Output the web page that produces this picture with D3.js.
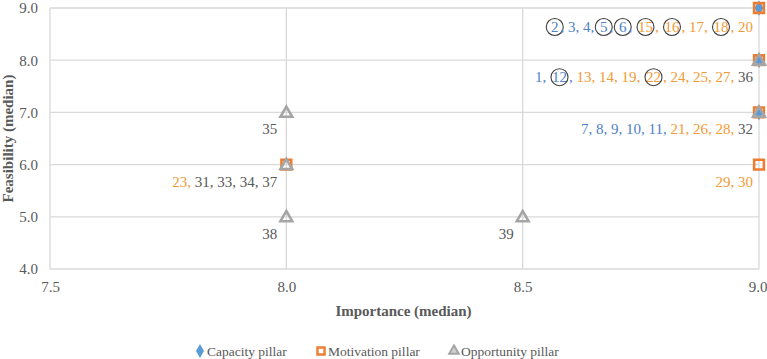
<!DOCTYPE html>
<html>
<head>
<meta charset="utf-8">
<script src="https://cdn.jsdelivr.net/npm/d3@7"></script>
<style>
  body { margin: 0; background: #fff; }
  text { font-family: "Liberation Serif", "Times New Roman", serif; }
</style>
</head>
<body>
<div id="chart"></div>
<script>

// --------------------------------------------------------
// (1) Data
// --------------------------------------------------------

var xTicks = [7.5, 8.0, 8.5, 9.0]
var yTicks = [4.0, 5.0, 6.0, 7.0, 8.0, 9.0]

var capacityX = [9, 9, 9]
var capacityY = [9, 8, 7]

var motivationX = [9, 9, 9, 9, 8]
var motivationY = [9, 8, 7, 6, 6]

var opportunityX = [9, 9, 8, 8, 8, 8.5]
var opportunityY = [8, 7, 7, 6, 5, 5]

// item numbers written next to each point
var labelX = [9, 9, 9, 9, 8, 8, 8, 8.5]
var labelY = [9, 8, 7, 6, 7, 6, 5, 5]
var labelCapacity    = [[2, 3, 4, 5, 6], [1, 12], [7, 8, 9, 10, 11], [], [], [], [], []]
var labelMotivation  = [[15, 16, 17, 18, 20], [13, 14, 19, 22, 24, 25, 27], [21, 26, 28], [29, 30], [], [23], [], []]
var labelOpportunity = [[], [36], [32], [], [35], [31, 33, 34, 37], [38], [39]]

var circled = [2, 5, 6, 12, 15, 16, 18, 22]

var seriesNames = ["Capacity pillar", "Motivation pillar", "Opportunity pillar"]


// --------------------------------------------------------
// (2) Sizes and colours
// --------------------------------------------------------

var svg_width = 767
var svg_height = 359

const margin = { top: 8, right: 8, bottom: 90, left: 50 }

var width = svg_width - (margin.left + margin.right)
var height = svg_height - (margin.top + margin.bottom)

var blue = "#5B9BD5", blueText = "#4F81C7"
var orange = "#ED7D31", orangeText = "#F39A35"
var grey = "#A5A5A5", greyText = "#595959"
var gridColor = "#D9D9D9"


// --------------------------------------------------------
// (3) Chart
// --------------------------------------------------------

const svg = d3.select("#chart")
    .append("svg")
        .attr("width", svg_width)
        .attr("height", svg_height)

const g = svg.append("g")
    .attr("transform", `translate(${margin.left}, ${margin.top})`)

const x = d3.scaleLinear().domain([7.5, 9]).range([0, width])
const y = d3.scaleLinear().domain([4, 9]).range([height, 0])

// grid
g.selectAll(".hgrid")
  .data(yTicks)
  .join("line")
    .attr("x1", 0).attr("x2", width)
    .attr("y1", d => y(d)).attr("y2", d => y(d))
    .attr("stroke", gridColor).attr("stroke-width", 1.3)

g.selectAll(".vgrid")
  .data(xTicks)
  .join("line")
    .attr("y1", 0).attr("y2", height)
    .attr("x1", d => x(d)).attr("x2", d => x(d))
    .attr("stroke", gridColor).attr("stroke-width", 1.3)

// axes
const yAxis = g.append("g")
    .call(d3.axisLeft(y).tickValues(yTicks).tickFormat(d3.format(".1f")).tickSize(0).tickPadding(12))
yAxis.select(".domain").remove()
yAxis.selectAll("text")
    .attr("font-size", 15)
    .attr("fill", "#595959")

const xAxis = g.append("g")
    .attr("transform", `translate(0, ${height})`)
    .call(d3.axisBottom(x).tickValues(xTicks).tickFormat(d3.format(".1f")).tickSize(0).tickPadding(12))
xAxis.select(".domain").remove()
xAxis.selectAll("text")
    .attr("font-size", 15)
    .attr("fill", "#595959")
// last tick label sits against the right edge
xAxis.selectAll("text")
    .filter(d => d === 9)
    .attr("text-anchor", "end")
    .attr("dx", 8)

// axis titles
svg.append("text")
    .attr("x", margin.left + width / 2 - 1)
    .attr("y", 316)
    .attr("text-anchor", "middle")
    .attr("font-size", 15)
    .attr("font-weight", "bold")
    .attr("fill", "#595959")
    .text("Importance (median)")

svg.append("text")
    .attr("transform", `translate(13, ${margin.top + height / 2}) rotate(-90)`)
    .attr("text-anchor", "middle")
    .attr("font-size", 15)
    .attr("font-weight", "bold")
    .attr("fill", "#595959")
    .text("Feasibility (median)")

// markers
const diamond = d3.symbol().type(d3.symbolDiamond).size(70)
const square = d3.symbol().type(d3.symbolSquare).size(95)
const triangle = d3.symbol().type(d3.symbolTriangle).size(60)

g.selectAll(".cap")
  .data(d3.zip(capacityX, capacityY))
  .join("path")
    .attr("d", diamond)
    .attr("transform", d => `translate(${x(d[0])}, ${y(d[1])})`)
    .attr("fill", blue)

g.selectAll(".mot")
  .data(d3.zip(motivationX, motivationY))
  .join("path")
    .attr("d", square)
    .attr("transform", d => `translate(${x(d[0])}, ${y(d[1])})`)
    .attr("fill", "none")
    .attr("stroke", orange)
    .attr("stroke-width", 2.6)

g.selectAll(".opp")
  .data(d3.zip(opportunityX, opportunityY))
  .join("path")
    .attr("d", triangle)
    .attr("transform", d => `translate(${x(d[0])}, ${y(d[1]) + 1})`)
    .attr("fill", "none")
    .attr("stroke", grey)
    .attr("stroke-width", 2.6)

// point labels
labelX.forEach((lx, i) => {
    var tokens = []
    labelCapacity[i].forEach(n => tokens.push({ n: n, c: blueText }))
    labelMotivation[i].forEach(n => tokens.push({ n: n, c: orangeText }))
    labelOpportunity[i].forEach(n => tokens.push({ n: n, c: greyText }))

    var row = g.append("g")
    var cursor = 0
    tokens.forEach((t, k) => {
        var ring = circled.includes(t.n)
        if (ring) cursor += 2
        var num = row.append("text")
            .attr("x", cursor)
            .attr("font-size", 15)
            .attr("fill", t.c)
            .text(t.n)
        var w = num.node().getComputedTextLength()
        if (ring) {
            row.append("circle")
                .attr("cx", cursor + w / 2)
                .attr("cy", -5)
                .attr("r", 8.5)
                .attr("fill", "none")
                .attr("stroke", "#404040")
                .attr("stroke-width", 1.1)
        }
        cursor += w
        if (ring) cursor += 2
        if (k < tokens.length - 1) {
            var sep = row.append("text")
                .attr("x", cursor)
                .attr("font-size", 15)
                .attr("fill", t.c)
                .attr("xml:space", "preserve")
                .text(", ")
            cursor += sep.node().getComputedTextLength()
        }
    })

    var right = lx === 9 ? x(lx) - 6 : x(lx) - 9
    var dy = labelY[i] === 9 ? 24 : 22
    row.attr("transform", `translate(${right - cursor}, ${y(labelY[i]) + dy})`)
})

// legend
const legend = svg.append("g").attr("transform", "translate(0, 356)")
const legendX = [200, 321, 454]
const legendShapes = [
    d3.symbol().type(d3.symbolDiamond).size(55),
    d3.symbol().type(d3.symbolSquare).size(50),
    d3.symbol().type(d3.symbolTriangle).size(40)
]

seriesNames.forEach((name, i) => {
    var item = legend.append("g").attr("transform", `translate(${legendX[i]}, 0)`)
    var p = item.append("path")
        .attr("d", legendShapes[i])
        .attr("transform", "translate(0, -5)")
    if (i === 0) p.attr("fill", blue)
    if (i === 1) p.attr("fill", "none").attr("stroke", orange).attr("stroke-width", 2.4)
    if (i === 2) p.attr("fill", "#D0D0D0").attr("stroke", grey).attr("stroke-width", 2)
    item.append("text")
        .attr("x", 7)
        .attr("font-size", 13.5)
        .attr("fill", "#595959")
        .text(name)
})

</script>
</body>
</html>
